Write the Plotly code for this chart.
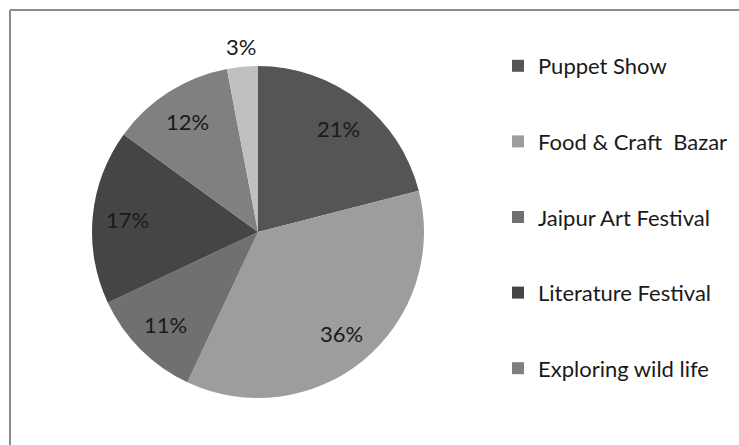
import math
import plotly.graph_objects as go

# Event share data
labels = ["Puppet Show", "Food & Craft  Bazar", "Jaipur Art Festival",
          "Literature Festival", "Exploring wild life", "Other"]
values = [21, 36, 11, 17, 12, 3]
colors = ["#555555", "#9d9d9d", "#707070", "#454545", "#808080", "#c0c0c0"]
legend_count = 5  # the small "Other" slice is not listed in the legend

W, H = 739, 445
cx, cy, r = 258, 232, 166

FONT = "Lato"
TEXT = "#1a1a1a"

fig = go.Figure()

fig.add_trace(go.Pie(
    labels=labels,
    values=values,
    sort=False,
    direction="clockwise",
    rotation=0,
    marker=dict(colors=colors, line=dict(width=0)),
    textinfo="none",
    showlegend=False,
    hoverinfo="label+percent",
    domain=dict(x=[(cx - r) / W, (cx + r) / W],
                y=[(H - (cy + r)) / H, (H - (cy - r)) / H]),
))

# Percentage labels: inside the slice for larger shares, just outside for tiny ones
total = sum(values)
cum = 0
for v in values:
    mid = (cum + v / 2) / total * 2 * math.pi
    cum += v
    pct = round(v / total * 100)
    k = 0.79 if pct >= 5 else 1.12
    px = cx + k * r * math.sin(mid)
    py = cy - k * r * math.cos(mid)
    fig.add_annotation(
        x=px / W, y=1 - py / H, xref="paper", yref="paper",
        text=f"{pct}%", showarrow=False,
        xanchor="center", yanchor="middle",
        font=dict(family=FONT, size=22, color=TEXT),
    )

# Legend entries as marker-only traces
for name, col in zip(labels[:legend_count], colors[:legend_count]):
    fig.add_trace(go.Scatter(
        x=[None], y=[None], mode="markers", name=name,
        legendgroup=name,
        marker=dict(symbol="square", size=12, color=col),
    ))

fig.update_layout(
    width=W, height=H,
    margin=dict(l=0, r=0, t=0, b=0),
    paper_bgcolor="white",
    plot_bgcolor="white",
    xaxis=dict(visible=False),
    yaxis=dict(visible=False),
    legend=dict(
        x=498 / W, y=1 - 45 / H, xanchor="left", yanchor="top",
        font=dict(family=FONT, size=22, color=TEXT),
        tracegroupgap=44,
        itemwidth=30,
        bgcolor="rgba(0,0,0,0)",
    ),
    shapes=[
        dict(type="line", xref="paper", yref="paper",
             x0=10 / W, x1=1.02, y0=1 - 10 / H, y1=1 - 10 / H,
             line=dict(color="#8c8c8c", width=2)),
        dict(type="line", xref="paper", yref="paper",
             x0=10 / W, x1=10 / W, y0=-0.02, y1=1 - 10 / H,
             line=dict(color="#8c8c8c", width=2)),
    ],
)

fig.write_html("out.html")
